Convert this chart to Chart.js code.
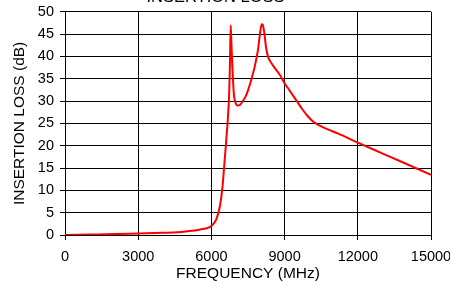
<!DOCTYPE html>
<html>
<head>
<meta charset="utf-8">
<script src="https://cdn.jsdelivr.net/npm/chart.js"></script>
<style>
  html, body { margin: 0; padding: 0; background: #fff; overflow: hidden; width: 450px; height: 281px; }
  #lossChart { position: absolute; left: 0; top: -14px; }
</style>
</head>
<body>
<canvas id="lossChart" width="450" height="297"></canvas>
<script>
// frequency (MHz) and insertion loss (dB)
const freqs = [0, 1000, 2000, 3000, 4000, 4600, 5100, 5500, 5800, 6000, 6200, 6350, 6450, 6540,
  6620, 6680, 6730, 6760, 6790, 6820, 6860, 6920, 6980, 7070, 7180, 7290, 7400, 7500, 7620, 7770,
  7910, 7990, 8060, 8110, 8170, 8240, 8330, 8450, 8600, 8790, 9000, 9200, 9500, 9750, 9950,
  10150, 10400, 10750, 11200, 12000, 13000, 14000, 15000];
const loss = [0, 0.1, 0.2, 0.35, 0.5, 0.6, 0.9, 1.2, 1.5, 2.0, 3.5, 6.5, 10.5, 16.5,
  22, 26.5, 32, 38, 47, 43, 37.6, 31.6, 29.8, 29.0, 29.2, 30.0, 31.0, 32.4, 34.5, 37.6,
  41.5, 45, 47.2, 47, 45.2, 42.0, 39.8, 38.6, 37.4, 36.0, 34.0, 32.4, 30.0, 28.0, 26.6,
  25.5, 24.6, 23.7, 22.7, 20.7, 18.3, 15.9, 13.5];
const xTicks = [0, 3000, 6000, 9000, 12000, 15000];

const FONT = "'Liberation Sans', Arial, Helvetica, sans-serif";
const points = freqs.map((f, i) => ({x: f, y: loss[i]}));

new Chart(document.getElementById('lossChart'), {
  type: 'line',
  data: {
    datasets: [{
      data: points,
      borderColor: '#ff0000',
      borderWidth: 2,
      pointRadius: 0,
      cubicInterpolationMode: 'monotone',
      fill: false
    }]
  },
  options: {
    responsive: false,
    animation: false,
    devicePixelRatio: 1,
    layout: { padding: { left: 0, right: 19, top: 0, bottom: 0 } },
    plugins: {
      legend: { display: false },
      tooltip: { enabled: false },
      title: {
        display: true,
        text: 'INSERTION LOSS',
        color: '#000',
        font: { family: FONT, size: 16.5, weight: 'normal' },
        padding: { top: 2, bottom: 4 }
      }
    },
    scales: {
      x: {
        type: 'linear',
        min: 0,
        max: 15000,
        afterBuildTicks: s => { s.ticks = xTicks.map(v => ({value: v})); },
        afterFit: s => { s.paddingRight = 0; s.paddingLeft = 0; s.height = 297 - 249; },
        grid: { color: '#000', lineWidth: 1, tickLength: 5, drawTicks: true },
        border: { color: '#000', width: 1 },
        ticks: {
          color: '#000',
          font: { family: FONT, size: 14.5 },
          padding: 8,
          maxRotation: 0,
          autoSkip: false,
          callback: v => String(v)
        },
        title: {
          display: true,
          text: 'FREQUENCY (MHz)',
          color: '#000',
          font: { family: FONT, size: 15.5 },
          padding: { top: 0, bottom: 0 }
        }
      },
      y: {
        min: 0,
        max: 50,
        afterFit: s => { s.width = 65; },
        grid: { color: '#000', lineWidth: 1, tickLength: 5 },
        border: { color: '#000', width: 1 },
        ticks: {
          stepSize: 5,
          color: '#000',
          font: { family: FONT, size: 14.5 },
          padding: 6
        },
        title: {
          display: true,
          text: 'INSERTION LOSS (dB)',
          color: '#000',
          font: { family: FONT, size: 15.5 },
          padding: { top: 10, bottom: 0 }
        }
      }
    }
  }
});
</script>
</body>
</html>
